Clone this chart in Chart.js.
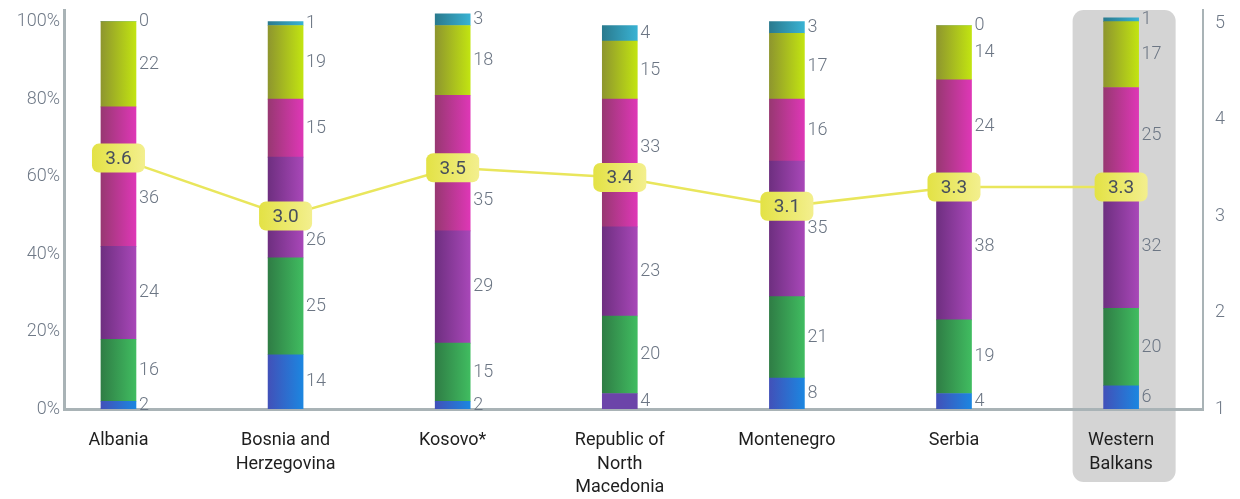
<!DOCTYPE html>
<html>
<head>
<meta charset="utf-8">
<script src="https://cdn.jsdelivr.net/npm/chart.js@4"></script>
<style>
  html, body { margin: 0; padding: 0; background: #ffffff; }
  #wrap { width: 1240px; height: 499px; position: relative; }
</style>
</head>
<body>
<div id="wrap"><canvas id="c"></canvas></div>
<script>
// Countries (multi-line labels)
const categories = [
  ['Albania'],
  ['Bosnia and', 'Herzegovina'],
  ['Kosovo*'],
  ['Republic of', 'North', 'Macedonia'],
  ['Montenegro'],
  ['Serbia'],
  ['Western', 'Balkans']
];

// Share of answers per score level (%), bottom to top
const level1 = [2, 14, 2, 4, 8, 4, 6];
const level2 = [16, 25, 15, 20, 21, 19, 20];
const level3 = [24, 26, 29, 23, 35, 38, 32];
const level4 = [36, 15, 35, 33, 16, 24, 25];
const level5 = [22, 19, 18, 15, 17, 14, 17];
const noAnswer = [0, 1, 3, 4, 3, 0, 1];

// Average score (right axis, 1-5)
const averageScore = [3.6, 3.0, 3.5, 3.4, 3.1, 3.3, 3.3];

// Axis ticks
const percentTicks = [0, 20, 40, 60, 80, 100];
const scoreTicks = [1, 2, 3, 4, 5];

const HIGHLIGHT_INDEX = 6;
const BAR_W = 35;

// Horizontal gradient stops for each level (dark left -> bright right)
const levelColors = [
  ['#4151B9', '#1C86E0'],
  ['#2F7D45', '#40BC60'],
  ['#6E2F80', '#A847B8'],
  ['#983872', '#DE37B6'],
  ['#8E962E', '#C2E411'],
  ['#2A7A8E', '#39B2D3']
];
// Single flat-coloured segment (level 1, North Macedonia)
const flatSegments = { '0-3': '#6C44A9' };

function barFill(levelIdx) {
  return function (ctx) {
    const key = levelIdx + '-' + ctx.dataIndex;
    if (flatSegments[key]) return flatSegments[key];
    const chart = ctx.chart;
    const xs = chart.scales && chart.scales.x;
    const stops = levelColors[levelIdx];
    if (!chart.chartArea || !xs) return stops[1];
    const cx = xs.getPixelForValue(ctx.dataIndex);
    const g = chart.ctx.createLinearGradient(cx - BAR_W / 2, 0, cx + BAR_W / 2, 0);
    g.addColorStop(0, stops[0]);
    g.addColorStop(1, stops[1]);
    return g;
  };
}

const levels = [level1, level2, level3, level4, level5, noAnswer];
const toPoints = arr => arr.map((v, i) => ({ x: i, y: v }));

const barSets = levels.map((arr, li) => ({
  type: 'bar',
  label: 'L' + (li + 1),
  data: toPoints(arr),
  backgroundColor: barFill(li),
  borderWidth: 0,
  barThickness: BAR_W,
  stack: 'share',
  yAxisID: 'y',
  order: 2
}));

const lineSet = {
  type: 'line',
  label: 'avg',
  data: toPoints(averageScore),
  yAxisID: 'y1',
  borderColor: '#E9E65C',
  borderWidth: 2.5,
  pointRadius: 0,
  tension: 0,
  order: 0
};

// Shaded rounded panel behind the regional column
const highlightPanel = {
  id: 'highlightPanel',
  beforeDraw(chart) {
    const xs = chart.scales.x;
    const c = chart.ctx;
    const cx = xs.getPixelForValue(HIGHLIGHT_INDEX) + 3;
    const w = 103, top = 10, bottom = 482, r = 11;
    c.save();
    c.fillStyle = '#D4D4D4';
    c.beginPath();
    c.roundRect(cx - w / 2, top, w, bottom - top, r);
    c.fill();
    c.restore();
  }
};

// Value labels beside each segment; a few are moved clear of the score badges
const labelShift = { '3-0': 22, '2-1': 33, '3-2': 37, '3-3': -16 };
const segmentLabels = {
  id: 'segmentLabels',
  afterDatasetsDraw(chart) {
    const c = chart.ctx;
    c.save();
    c.font = '300 18px Roboto';
    c.fillStyle = '#6C7684';
    c.textAlign = 'left';
    c.textBaseline = 'middle';
    chart.data.datasets.forEach((ds, di) => {
      if (ds.type !== 'bar') return;
      const meta = chart.getDatasetMeta(di);
      meta.data.forEach((bar, i) => {
        const v = ds.data[i].y;
        const y = (bar.y + bar.base) / 2 + (labelShift[di + '-' + i] || 0);
        c.fillText(String(v), bar.x + BAR_W / 2 + 3, y);
      });
    });
    c.restore();
  }
};

// Rounded yellow badges carrying the average score
const scoreBadges = {
  id: 'scoreBadges',
  afterDatasetsDraw(chart) {
    const c = chart.ctx;
    const di = chart.data.datasets.findIndex(d => d.type === 'line');
    const meta = chart.getDatasetMeta(di);
    const w = 53, h = 29;
    c.save();
    meta.data.forEach((pt, i) => {
      const x0 = pt.x - w / 2, y0 = pt.y - h / 2;
      const g = c.createLinearGradient(x0, 0, x0 + w, 0);
      g.addColorStop(0, '#E3E245');
      g.addColorStop(1, '#F3EF8E');
      c.fillStyle = g;
      c.beginPath();
      c.roundRect(x0, y0, w, h, 7);
      c.fill();
      c.fillStyle = '#474E5C';
      c.font = '19px Roboto';
      c.textAlign = 'center';
      c.textBaseline = 'middle';
      c.fillText(chart.data.datasets[di].data[i].y.toFixed(1), pt.x, pt.y + 1);
    });
    c.restore();
  }
};

// Keep the plot area fixed: no extra room reserved for edge tick labels
function noEdgePadding(s) {
  s.paddingTop = 0; s.paddingBottom = 0; s.paddingLeft = 0; s.paddingRight = 0;
}

function build() {
  new Chart(document.getElementById('c'), {
    data: { datasets: [...barSets, lineSet] },
    plugins: [highlightPanel, segmentLabels, scoreBadges],
    options: {
      responsive: true,
      maintainAspectRatio: false,
      animation: false,
      layout: { padding: { top: 10, left: 0, right: 0, bottom: 0 } },
      plugins: { legend: { display: false }, tooltip: { enabled: false } },
      scales: {
        x: {
          type: 'linear',
          stacked: true,
          offset: false,
          min: -0.326,
          max: 6.49,
          afterBuildTicks(s) { s.ticks = categories.map((_, i) => ({ value: i })); },
          afterFit(s) { s.height = 90; noEdgePadding(s); },
          grid: { display: false, drawTicks: false, offset: false },
          border: { display: true, color: '#A9B3B6', width: 3 },
          ticks: {
            padding: 20,
            color: '#1E1E1E',
            font: { family: 'Roboto', size: 18, lineHeight: 1.3 },
            maxRotation: 0,
            autoSkip: false,
            callback: v => categories[v]
          }
        },
        y: {
          type: 'linear',
          position: 'left',
          stacked: true,
          min: 0,
          max: 103,
          afterBuildTicks(s) { s.ticks = percentTicks.map(v => ({ value: v })); },
          afterFit(s) { s.width = 64; noEdgePadding(s); },
          grid: { display: false, drawTicks: false },
          border: { display: true, color: '#A9B3B6', width: 3 },
          ticks: {
            padding: 4,
            color: '#6F7987',
            font: { family: 'Roboto', size: 18, weight: '300' },
            callback: v => v + '%'
          }
        },
        y1: {
          type: 'linear',
          position: 'right',
          min: 1,
          max: 5.135,
          afterBuildTicks(s) { s.ticks = scoreTicks.map(v => ({ value: v })); },
          afterFit(s) { s.width = 37; noEdgePadding(s); },
          grid: { display: false, drawTicks: false },
          border: { display: true, color: '#A9B3B6', width: 2 },
          ticks: {
            padding: 12,
            color: '#6F7987',
            font: { family: 'Roboto', size: 18, weight: '300' }
          }
        }
      }
    }
  });
}

Promise.all([
  document.fonts.load('18px Roboto'),
  document.fonts.load('300 18px Roboto'),
  document.fonts.load('19px Roboto')
]).then(build, build);
</script>
</body>
</html>
